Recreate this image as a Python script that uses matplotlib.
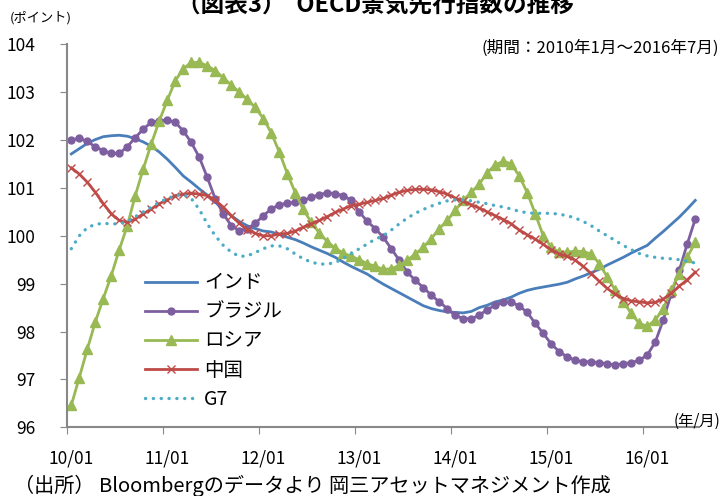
import numpy as np
import matplotlib
matplotlib.use("Agg")
import matplotlib.pyplot as plt

plt.rcParams['font.family'] = ['Noto Sans CJK JP', 'DejaVu Sans']

# monthly values, 2010/01 .. 2016/07
india = [101.71, 101.82, 101.93, 102.01, 102.07, 102.09, 102.10, 102.08, 102.03, 101.96,
         101.87, 101.75, 101.60, 101.43, 101.25, 101.12, 100.98, 100.85, 100.70, 100.55,
         100.42, 100.30, 100.21, 100.15, 100.10, 100.08, 100.03, 99.97, 99.92, 99.85,
         99.77, 99.70, 99.63, 99.55, 99.45, 99.36, 99.28, 99.20, 99.09, 98.99,
         98.90, 98.81, 98.72, 98.63, 98.54, 98.48, 98.44, 98.41, 98.40, 98.39,
         98.42, 98.50, 98.55, 98.62, 98.66, 98.72, 98.80, 98.86, 98.90, 98.93,
         98.96, 98.99, 99.03, 99.10, 99.16, 99.23, 99.30, 99.39, 99.47, 99.55,
         99.64, 99.72, 99.80, 99.95, 100.09, 100.24, 100.39, 100.56, 100.74]
brazil = [102.00, 102.04, 101.97, 101.86, 101.78, 101.72, 101.72, 101.86, 102.05, 102.23,
          102.37, 102.40, 102.42, 102.37, 102.19, 101.95, 101.64, 101.22, 100.77, 100.46,
          100.21, 100.11, 100.15, 100.26, 100.42, 100.56, 100.65, 100.68, 100.70, 100.74,
          100.80, 100.86, 100.90, 100.88, 100.84, 100.74, 100.50, 100.30, 100.15, 99.97,
          99.73, 99.49, 99.24, 99.07, 98.92, 98.76, 98.62, 98.48, 98.34, 98.27,
          98.27, 98.34, 98.46, 98.55, 98.62, 98.62, 98.53, 98.40, 98.17, 97.96,
          97.74, 97.58, 97.47, 97.40, 97.37, 97.37, 97.35, 97.33, 97.30, 97.33,
          97.35, 97.40, 97.51, 97.78, 98.24, 98.79, 99.28, 99.83, 100.35]
russia = [96.46, 97.04, 97.63, 98.20, 98.69, 99.17, 99.71, 100.21, 100.84, 101.40,
          101.92, 102.40, 102.83, 103.24, 103.49, 103.62, 103.62, 103.55, 103.45, 103.30,
          103.15, 103.00, 102.85, 102.68, 102.45, 102.15, 101.75, 101.30, 100.90, 100.55,
          100.28, 100.06, 99.88, 99.74, 99.64, 99.57, 99.50, 99.42, 99.36, 99.30,
          99.31, 99.38, 99.49, 99.62, 99.76, 99.94, 100.15, 100.32, 100.53, 100.74,
          100.91, 101.08, 101.32, 101.48, 101.56, 101.50, 101.25, 100.90, 100.46, 100.00,
          99.76, 99.66, 99.66, 99.68, 99.67, 99.62, 99.42, 99.14, 98.86, 98.62,
          98.38, 98.17, 98.11, 98.24, 98.48, 98.86, 99.21, 99.55, 99.87]
china = [101.42, 101.29, 101.12, 100.91, 100.67, 100.46, 100.32, 100.28, 100.35, 100.46,
         100.56, 100.67, 100.75, 100.84, 100.87, 100.89, 100.87, 100.84, 100.74, 100.60,
         100.42, 100.26, 100.13, 100.05, 100.00, 100.00, 100.04, 100.05, 100.10, 100.18,
         100.25, 100.32, 100.40, 100.49, 100.56, 100.63, 100.66, 100.70, 100.74, 100.78,
         100.85, 100.91, 100.95, 100.97, 100.97, 100.96, 100.92, 100.87, 100.79, 100.72,
         100.65, 100.58, 100.50, 100.42, 100.34, 100.25, 100.12, 100.02, 99.93, 99.82,
         99.71, 99.62, 99.57, 99.49, 99.36, 99.21, 99.05, 98.90, 98.78, 98.69,
         98.64, 98.62, 98.60, 98.61, 98.68, 98.80, 98.95, 99.08, 99.24]
g7 = [99.73, 100.00, 100.17, 100.24, 100.26, 100.25, 100.25, 100.30, 100.40, 100.50,
      100.60, 100.70, 100.78, 100.84, 100.86, 100.78, 100.55, 100.25, 100.00, 99.80,
      99.66, 99.57, 99.58, 99.65, 99.73, 99.79, 99.79, 99.73, 99.62, 99.52,
      99.45, 99.41, 99.41, 99.44, 99.53, 99.63, 99.73, 99.83, 99.93, 100.00,
      100.12, 100.25, 100.37, 100.47, 100.55, 100.62, 100.68, 100.73, 100.75, 100.75,
      100.73, 100.70, 100.67, 100.63, 100.60, 100.56, 100.51, 100.48, 100.47, 100.47,
      100.47, 100.45, 100.42, 100.37, 100.30, 100.21, 100.10, 100.00, 99.90, 99.80,
      99.71, 99.63, 99.58, 99.55, 99.53, 99.52, 99.50, 99.47, 99.43]

year_labels = ['10/01', '11/01', '12/01', '13/01', '14/01', '15/01', '16/01']

x = np.arange(len(india)) + 0.5

fig = plt.figure(figsize=(7.22, 4.96), dpi=100)
ax = fig.add_axes([0.0932, 0.1385, 0.8753, 0.7722])

ax.plot(x, india, color='#4A7EBB', lw=2.0, label='インド')
ax.plot(x, brazil, color='#7D5FA0', lw=2.0, marker='o', ms=5, label='ブラジル')
ax.plot(x, russia, color='#98B954', lw=2.0, marker='^', ms=7.5, label='ロシア')
ax.plot(x, china, color='#BE4B48', lw=2.0, marker='x', ms=6, mew=1.0, label='中国')
ax.plot(x, g7, color='#4BACC6', lw=2.4, ls=(0, (0.05, 2.3)), dash_capstyle='round', label='G7')

ax.set_xlim(0, 79)
ax.set_ylim(96, 104)
ax.set_yticks(range(96, 105))
ax.tick_params(axis='y', labelsize=12.5, length=5, pad=18, color='#888888')

ax.set_xticks(range(0, 79, 12))
ax.set_xticklabels([])
ax.set_xticks(np.arange(0, 79, 12) + 0.5, minor=True)
ax.set_xticklabels(year_labels, minor=True)
ax.tick_params(axis='x', which='major', length=5, direction='out', color='#888888')
ax.tick_params(axis='x', which='minor', length=0, labelsize=12.5, pad=16)

for s in ['top', 'right']:
    ax.spines[s].set_visible(False)
for s in ['left', 'bottom']:
    ax.spines[s].set_color('#888888')
    ax.spines[s].set_linewidth(1.5)

leg = ax.legend(loc='upper left', bbox_to_anchor=(0.095, 0.45), frameon=False,
                fontsize=14, handlelength=2.7, labelspacing=0.42, handletextpad=0.35)

fig.text(0.52, 1 - 4 / 496, '（図表3）  OECD景気先行指数の推移', ha='center', va='center',
         fontsize=17, fontweight='bold')
fig.text(10 / 722, 1 - 18 / 496, '(ポイント)', ha='left', va='center', fontsize=9.5)
fig.text(719 / 722, 1 - 48 / 496, '(期間：2010年1月～2016年7月)', ha='right', va='center', fontsize=12)
fig.text(720 / 722, 1 - 421 / 496, '(年/月)', ha='right', va='center', fontsize=11)
fig.text(14 / 722, 1 - 486 / 496, '（出所） Bloombergのデータより 岡三アセットマネジメント作成',
         ha='left', va='center', fontsize=14.5)

fig.savefig('out.png', dpi=100)
